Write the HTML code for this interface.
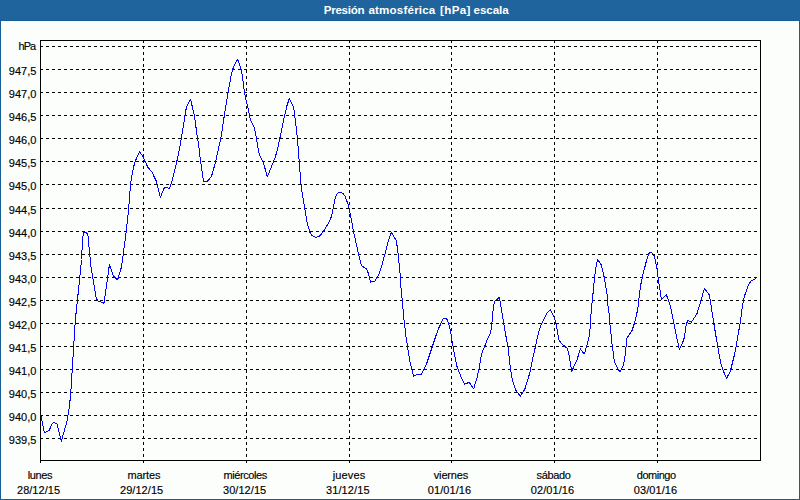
<!DOCTYPE html>
<html lang="es"><head><meta charset="utf-8"><title>Presión atmosférica [hPa] escala</title>
<style>html,body{margin:0;padding:0;background:#fcfefc;overflow:hidden}svg{display:block}text{font-family:"Liberation Sans","DejaVu Sans",sans-serif;font-size:11px;fill:#000;stroke:#000;stroke-width:.15px}.t{font-weight:bold;fill:#fff;stroke:none;font-size:11.6px}</style></head><body>
<svg width="800" height="500" viewBox="0 0 800 500">
<defs><pattern id="d" width="8" height="8" patternUnits="userSpaceOnUse"><rect width="8" height="8" fill="#1e6499"/><rect x="2" y="2" width="1" height="1" fill="#2467b0"/><rect x="7" y="2" width="1" height="1" fill="#2467b0"/><rect x="5" y="1" width="1" height="1" fill="#2467b0"/><rect x="0" y="0" width="1" height="1" fill="#2467b0"/><rect x="4" y="4" width="1" height="1" fill="#2467b0"/><rect x="1" y="6" width="1" height="1" fill="#2467b0"/><rect x="5" y="7" width="1" height="1" fill="#2467b0"/><rect x="3" y="5" width="1" height="1" fill="#2467b0"/></pattern></defs>
<rect width="800" height="500" fill="#fcfefc"/>
<rect width="800" height="20" fill="url(#d)"/>
<g fill="#165e95" shape-rendering="crispEdges"><rect x="0" y="20" width="800" height="1"/><rect x="0" y="20" width="1" height="480"/><rect x="799" y="20" width="1" height="480"/><rect x="0" y="499" width="800" height="1"/></g>
<text class="t" y="14"><tspan x="323.7" textLength="40.9">Presión</tspan> <tspan x="368.4" textLength="66.9">atmosférica</tspan> <tspan x="440" textLength="30.4">[hPa]</tspan> <tspan x="473.5" textLength="35.2">escala</tspan></text>
<g stroke="#000" stroke-width="1" shape-rendering="crispEdges" fill="none"><line x1="40" y1="46.5" x2="760" y2="46.5" stroke-dasharray="3 3"/><line x1="40" y1="69.5" x2="760" y2="69.5" stroke-dasharray="3 3"/><line x1="40" y1="92.5" x2="760" y2="92.5" stroke-dasharray="3 3"/><line x1="40" y1="115.5" x2="760" y2="115.5" stroke-dasharray="3 3"/><line x1="40" y1="138.5" x2="760" y2="138.5" stroke-dasharray="3 3"/><line x1="40" y1="161.5" x2="760" y2="161.5" stroke-dasharray="3 3"/><line x1="40" y1="184.5" x2="760" y2="184.5" stroke-dasharray="3 3"/><line x1="40" y1="208.5" x2="760" y2="208.5" stroke-dasharray="3 3"/><line x1="40" y1="231.5" x2="760" y2="231.5" stroke-dasharray="3 3"/><line x1="40" y1="254.5" x2="760" y2="254.5" stroke-dasharray="3 3"/><line x1="40" y1="277.5" x2="760" y2="277.5" stroke-dasharray="3 3"/><line x1="40" y1="300.5" x2="760" y2="300.5" stroke-dasharray="3 3"/><line x1="40" y1="323.5" x2="760" y2="323.5" stroke-dasharray="3 3"/><line x1="40" y1="346.5" x2="760" y2="346.5" stroke-dasharray="3 3"/><line x1="40" y1="369.5" x2="760" y2="369.5" stroke-dasharray="3 3"/><line x1="40" y1="392.5" x2="760" y2="392.5" stroke-dasharray="3 3"/><line x1="40" y1="415.5" x2="760" y2="415.5" stroke-dasharray="3 3"/><line x1="40" y1="438.5" x2="760" y2="438.5" stroke-dasharray="3 3"/><line x1="143.5" y1="40" x2="143.5" y2="460" stroke-dasharray="3 3"/><line x1="246.5" y1="40" x2="246.5" y2="460" stroke-dasharray="3 3"/><line x1="349.5" y1="40" x2="349.5" y2="460" stroke-dasharray="3 3"/><line x1="451.5" y1="40" x2="451.5" y2="460" stroke-dasharray="3 3"/><line x1="554.5" y1="40" x2="554.5" y2="460" stroke-dasharray="3 3"/><line x1="657.5" y1="40" x2="657.5" y2="460" stroke-dasharray="3 3"/><rect x="40.5" y="40.5" width="720" height="420"/><line x1="40.5" y1="460" x2="40.5" y2="463"/><line x1="143.5" y1="460" x2="143.5" y2="463"/><line x1="246.5" y1="460" x2="246.5" y2="463"/><line x1="349.5" y1="460" x2="349.5" y2="463"/><line x1="451.5" y1="460" x2="451.5" y2="463"/><line x1="554.5" y1="460" x2="554.5" y2="463"/><line x1="657.5" y1="460" x2="657.5" y2="463"/></g>
<polyline points="40.5,415.5 41.2,416.5 44.4,432.6 46.6,431.6 49.2,430.2 52.4,423.4 54,422.2 57.2,424.2 60,435.8 61.4,441.4 63.6,433 66.8,422.2 68.4,413 69.6,405 70.8,392 71.6,380 75.4,319.4 77.6,298.4 80,275.6 81.5,259.5 82.6,238.4 83.8,231.8 87.4,233.4 88.4,238.4 89.6,254.6 90.5,260 91,267.2 96.2,298.4 98,301 104,303.2 107.8,276.8 109.4,264.6 113.4,276.2 117.6,279.8 120.8,269.6 122.7,259.7 123.2,254.6 126.2,231.4 128,215 129.4,200 130,191.6 131.2,179.6 133.6,167 134.8,162.8 137.2,156.2 139.6,152 142,155 145,161 148,167.6 151.6,171.4 156.4,181.4 157.6,186.2 160.4,197.4 164.2,188 165.8,187 169,188.6 170.6,185.6 172,180.8 176.8,161.6 180.6,143 181.4,137.8 184.8,116.8 186.4,107.2 190.6,99.4 192,105.4 194.4,115.6 197.4,137.8 198.3,142 200.4,160.4 203.6,181.4 207.4,181.4 211.4,176.6 215.4,162.8 219.6,143.5 220.8,138.5 224.4,115 228,92.6 229.4,85 231.4,73.8 233.6,66.6 237.6,59.4 240.8,67.8 242,73.8 244.2,90 245.5,97.8 248,108 250.4,119.4 254.6,128.4 256.4,138.5 259.2,154.4 263.4,162.8 267.4,176.8 275.4,156.8 277.4,149.4 279.8,138.6 284.6,115.4 287,105.6 289.4,98.4 293.6,107.4 294.8,115.8 297.4,138 298,146 299.2,161.2 301,184 302.6,196 304.4,206 306.8,221.4 309.8,232.2 312.2,235.8 315.6,237.4 319.4,236.2 322.4,232.8 324.8,229.2 328.4,223.2 331.4,216.6 333.2,208 335,199 336.6,194.2 339.4,192.2 342.4,193 344.7,195.5 346.4,199.8 348.6,206 351.2,219 353.4,231 358.6,254.4 361.4,265.8 366.6,268.8 368.2,273 370.6,282.2 374.8,281 378.4,275.4 381.4,267 385,253.8 388,241.8 391.4,232.4 396.2,240.6 397.6,249 398.8,261 400,273 400.5,283 402.2,299.8 404,319.6 406,337 407.6,347 409.4,359 411.8,369.2 413.6,376.2 417.2,374.6 421.6,374 426.8,363.2 432.2,347 435.5,337 438.8,328 443,319 445.4,318.2 447.4,319.6 449,325 450.8,332.8 451.8,339.4 453.8,350.6 457.2,367.4 461.6,378.2 464.4,384.2 469.2,382.4 473.6,389 476.6,379.4 479.6,366.2 481.4,354.2 485.2,345 488,337.8 490.6,333 492.2,321 493.4,306.6 494.6,301.2 499.4,297.4 500.6,304.2 503.6,322.2 505.4,333 507,342 508,346.6 509.8,364 512.2,379.6 515.8,390.4 520.4,396.2 524.8,389.2 529.6,373.6 532.6,359.2 535.6,346 536.6,342 537.2,337.8 540.2,327 542,322.8 546.8,313.2 550.4,309.6 554,316.8 555.8,322.2 558.8,340 562.5,344.5 567.4,348.4 569.2,355.6 571.7,371.2 576.8,360.5 580.3,348.8 584.3,354 587.4,343.8 589.4,335.4 590.6,323.4 591.2,310 592.6,297.8 594.6,276.8 596.6,263 597.8,259.6 601.2,264.8 602.4,269 604.2,277.4 607.2,295.4 608,306 609.6,317.4 610,324.6 612,343.8 614.4,361.8 619.8,372 623.4,365.4 625.2,354.6 627,337.8 631.8,331.2 634.8,322.2 636.6,315 638.4,304.4 639,297.8 640.8,284.6 642.4,276.8 646.2,261.8 648.6,254 650.4,252.2 652.8,253.4 654.6,256.4 657,269 658.6,281 661.4,299.4 666.4,294.8 670.4,305.8 674,324.4 676.6,337 679.4,349.4 683,341.6 684.5,337 686,325.6 687.8,320.2 691.4,322.2 696.8,314.2 701,300.4 704.4,288.4 709.2,294.7 710.5,302 711.4,308 713.6,322 716.1,337 717.4,344.6 720.8,363.8 723.4,371 726.6,378.4 730.4,371 734,356.6 736.4,344.6 737.6,337 740,324.4 742.4,306 744.4,296.2 748,286 751,281 754.6,279.4 756.4,277.6" fill="none" stroke="#0000ff" stroke-width="1" shape-rendering="crispEdges" stroke-linejoin="round"/>
<text x="18.5" y="50" textLength="17.6" lengthAdjust="spacing">hPa</text>
<text x="8.8" y="75" textLength="27.5" lengthAdjust="spacing">947,5</text>
<text x="8.8" y="98" textLength="27.5" lengthAdjust="spacing">947,0</text>
<text x="8.8" y="121" textLength="27.5" lengthAdjust="spacing">946,5</text>
<text x="8.8" y="144" textLength="27.5" lengthAdjust="spacing">946,0</text>
<text x="8.8" y="167" textLength="27.5" lengthAdjust="spacing">945,5</text>
<text x="8.8" y="190" textLength="27.5" lengthAdjust="spacing">945,0</text>
<text x="8.8" y="214" textLength="27.5" lengthAdjust="spacing">944,5</text>
<text x="8.8" y="237" textLength="27.5" lengthAdjust="spacing">944,0</text>
<text x="8.8" y="260" textLength="27.5" lengthAdjust="spacing">943,5</text>
<text x="8.8" y="283" textLength="27.5" lengthAdjust="spacing">943,0</text>
<text x="8.8" y="306" textLength="27.5" lengthAdjust="spacing">942,5</text>
<text x="8.8" y="329" textLength="27.5" lengthAdjust="spacing">942,0</text>
<text x="8.8" y="352" textLength="27.5" lengthAdjust="spacing">941,5</text>
<text x="8.8" y="375" textLength="27.5" lengthAdjust="spacing">941,0</text>
<text x="8.8" y="398" textLength="27.5" lengthAdjust="spacing">940,5</text>
<text x="8.8" y="421" textLength="27.5" lengthAdjust="spacing">940,0</text>
<text x="8.8" y="444" textLength="27.5" lengthAdjust="spacing">939,5</text>
<text x="27.8" y="479" textLength="24.7" lengthAdjust="spacing">lunes</text>
<text x="17.0" y="494" textLength="43.0" lengthAdjust="spacing">28/12/15</text>
<text x="127.5" y="479" textLength="33.0" lengthAdjust="spacing">martes</text>
<text x="120.0" y="494" textLength="43.2" lengthAdjust="spacing">29/12/15</text>
<text x="223.5" y="479" textLength="43.7" lengthAdjust="spacing">miércoles</text>
<text x="223.0" y="494" textLength="43.2" lengthAdjust="spacing">30/12/15</text>
<text x="332.8" y="479" textLength="32.4" lengthAdjust="spacing">jueves</text>
<text x="326.0" y="494" textLength="43.5" lengthAdjust="spacing">31/12/15</text>
<text x="433.8" y="479" textLength="34.4" lengthAdjust="spacing">viernes</text>
<text x="427.7" y="494" textLength="43.5" lengthAdjust="spacing">01/01/16</text>
<text x="536.5" y="479" textLength="34.3" lengthAdjust="spacing">sábado</text>
<text x="530.7" y="494" textLength="43.5" lengthAdjust="spacing">02/01/16</text>
<text x="636.8" y="479" textLength="39.2" lengthAdjust="spacing">domingo</text>
<text x="633.7" y="494" textLength="43.5" lengthAdjust="spacing">03/01/16</text>
</svg></body></html>
